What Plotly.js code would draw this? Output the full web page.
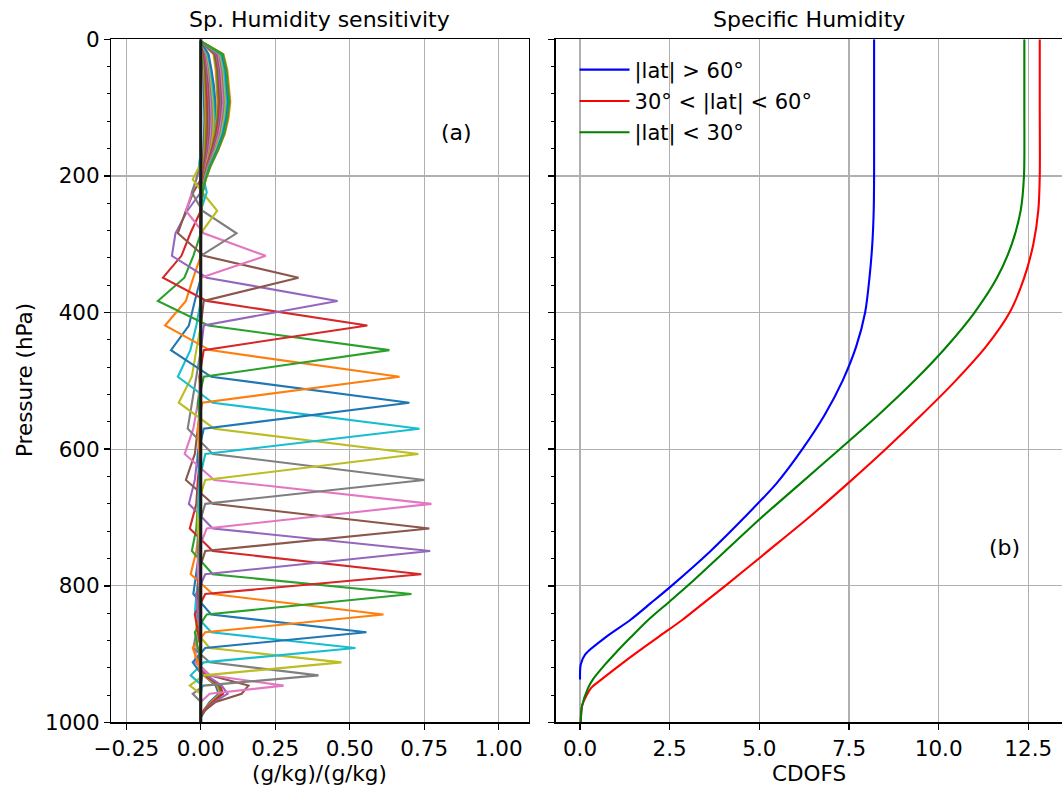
<!DOCTYPE html>
<html>
<head>
<meta charset="utf-8">
<script src="https://cdn.plot.ly/plotly-3.0.1.min.js"></script>
<style>html,body{margin:0;padding:0;background:#fff;}#chart{width:1062px;height:786px;}</style>
</head>
<body>
<div id="chart"></div>
<script>
// ---------- DATA ----------
// Pressure grid (hPa) of the sensitivity (kernel) rows
const pressureLevels = [3,22,45,68,92,115,138,162,186,205,224,251,284,317,349,383,419,455,494,532,570,607,645,680,716,749,783,812,842,868,891,912,931,946,958,970,982,992,1000];

// Near-surface rows (rows 0-5), values on these levels
const surfaceLevels = [891,912,931,946,958,970,982,992,1000];
const surfaceRows = [
  [0,-0.010,0.010,0.050,0.060,0.030,0.010,0,0],
  [0,-0.010,0.010,0.055,0.065,0.035,0.010,0,0],
  [0,-0.008,0.015,0.060,0.070,0.040,0.012,0,0],
  [0,-0.012,0.015,0.065,0.075,0.040,0.012,0,0],
  [0,-0.010,0.020,0.070,0.090,0.045,0.015,0,0],
  [0,-0.015,0.030,0.160,0.137,0.050,0.015,0,0]
];

// Peaked rows (rows 6-29): pressure of the peak and values at levels -4..+4 around it
const spikePeakPressure = [946,931,912,891,868,842,812,783,749,716,680,645,607,570,532,494,455,419,383,349,317,284,251,224];
const spikeWindows = [
  [-0.010,-0.015,-0.020,0.030,0.278,0.030,0.000,0.000,0],
  [-0.010,-0.015,-0.025,0.030,0.395,0.010,-0.027,0.000,0],
  [-0.005,-0.015,-0.015,0.030,0.472,0.010,-0.037,0.000,0],
  [-0.005,-0.015,-0.020,0.035,0.519,0.010,-0.034,0.005,0],
  [-0.005,-0.015,-0.025,0.035,0.556,0.015,-0.027,0.005,0],
  [-0.005,-0.015,-0.034,0.040,0.613,0.015,-0.027,-0.010,0],
  [-0.010,-0.015,-0.030,0.040,0.707,0.020,-0.020,-0.010,0],
  [-0.010,-0.015,-0.037,0.040,0.740,0.015,-0.020,-0.010,0],
  [-0.010,-0.020,-0.040,0.040,0.770,0.015,-0.015,-0.010,0],
  [-0.010,-0.020,-0.050,0.040,0.767,0.015,-0.010,-0.010,0],
  [-0.010,-0.025,-0.054,0.045,0.774,0.020,-0.010,-0.010,0],
  [-0.015,-0.030,-0.044,0.040,0.750,0.015,-0.010,-0.010,0],
  [-0.015,-0.030,-0.074,0.045,0.730,0.015,-0.010,-0.010,0],
  [-0.015,-0.035,-0.077,0.040,0.734,0.015,-0.005,-0.010,0],
  [-0.020,-0.040,-0.100,0.035,0.700,0.010,-0.010,-0.005,0],
  [-0.025,-0.050,-0.120,0.030,0.667,0.005,-0.010,-0.005,0],
  [-0.025,-0.055,-0.144,0.025,0.633,0.010,-0.010,0.000,0],
  [-0.035,-0.065,-0.127,0.020,0.559,0.010,-0.005,0.000,0],
  [-0.045,-0.085,-0.097,0.020,0.459,0.010,0.000,0.000,0],
  [-0.025,-0.050,-0.077,0.010,0.328,0.010,0.000,0.000,0],
  [-0.015,-0.030,-0.050,0.010,0.218,0.000,0.000,0.000,0],
  [-0.005,-0.015,-0.030,0.005,0.120,0.000,0.000,0.000,0],
  [0,-0.005,-0.027,0.005,0.055,0.000,0.000,0,0],
  [0,0,-0.005,0.010,0.020,0.000,0,0,0]
];

// Upper-level rows (rows 30-52), values on these levels
const upperLevels = [3,22,45,68,92,115,138,162,186,205,224,251,284];
const upperRows = [
  [0,.006,.008,.010,.011,.012,.011,.009,.006,.004,.001,0,0],
  [0,.008,.011,.014,.015,.016,.015,.012,.008,.005,.002,0,0],
  [0,.010,.014,.017,.019,.020,.019,.016,.010,.006,.002,.001,0],
  [0,.012,.017,.020,.023,.024,.023,.019,.012,.007,.003,.001,0],
  [0,.014,.020,.024,.027,.028,.027,.022,.014,.008,.003,.001,0],
  [0,.016,.022,.027,.030,.032,.030,.025,.016,.010,.004,.001,0],
  [0,.018,.025,.031,.034,.036,.034,.028,.018,.011,.004,.001,0],
  [0,.020,.028,.034,.038,.040,.038,.031,.020,.012,.005,.001,0],
  [0,.022,.031,.037,.042,.044,.042,.034,.022,.013,.005,.001,0],
  [0,.024,.034,.041,.046,.048,.046,.037,.024,.014,.006,.001,0],
  [0,.026,.036,.044,.049,.052,.049,.041,.026,.016,.006,.002,0],
  [0,.043,.050,.053,.056,.053,.046,.034,.018,.010,.003,.001,0],
  [0,.046,.054,.057,.060,.056,.049,.036,.020,.010,.004,.001,0],
  [0,.049,.058,.061,.064,.060,.052,.038,.021,.011,.004,.001,0],
  [0,.052,.061,.065,.068,.064,.056,.041,.022,.012,.004,.001,0],
  [0,.055,.065,.068,.072,.068,.059,.043,.024,.012,.004,.001,0],
  [0,.059,.068,.072,.076,.071,.062,.046,.025,.013,.005,.001,0],
  [0,.062,.072,.076,.080,.075,.066,.048,.026,.014,.005,.001,0],
  [0,.065,.076,.080,.084,.079,.069,.050,.028,.014,.005,.001,0],
  [0,.068,.079,.084,.088,.083,.072,.053,.029,.015,.005,.001,0],
  [0,.071,.083,.087,.092,.086,.075,.055,.030,.016,.006,.001,0],
  [0,.076,.089,.094,.099,.093,.081,.059,.033,.017,.006,.001,0],
  [0,.074,.086,.091,.096,.090,.079,.058,.032,.016,.006,.001,0]
];

// Cumulative degrees of freedom (right panel)
const cdofsPressure = [0,100,200,250,300,350,400,450,500,550,600,650,700,750,800,825,850,875,900,915,937,950,975,1000];
const cdofsPolar    = [8.20,8.20,8.20,8.19,8.15,8.07,7.95,7.70,7.32,6.82,6.20,5.48,4.58,3.62,2.55,1.98,1.40,0.72,0.15,0.02,0.00,null,null,null];
const cdofsMidLat   = [12.82,12.82,12.82,12.78,12.64,12.38,11.98,11.32,10.47,9.52,8.52,7.47,6.38,5.22,4.05,3.45,2.85,2.18,1.52,1.14,0.60,0.30,0.06,0.02];
const cdofsTropics  = [12.39,12.39,12.38,12.29,12.04,11.62,11.00,10.22,9.32,8.32,7.24,6.15,5.06,4.03,3.00,2.45,1.90,1.42,0.96,0.70,0.36,0.22,0.06,0.02];
const seriesNames = ['|lat| > 60°','30° < |lat| < 60°','|lat| < 30°'];
const seriesColors = ['#0000ff','#ff0000','#008000'];

const xTicksLeft = [-0.25,0,0.25,0.5,0.75,1.0];
const xTicksRight = [0,2.5,5,7.5,10,12.5];
const yTicks = [0,200,400,600,800,1000];

// ---------- BUILD ----------
const tab10 = ['#1f77b4','#ff7f0e','#2ca02c','#d62728','#9467bd','#8c564b','#e377c2','#7f7f7f','#bcbd22','#17becf'];
const rows = [];
surfaceRows.forEach(vals => {
  const r = pressureLevels.map(() => 0);
  surfaceLevels.forEach((p, j) => { r[pressureLevels.indexOf(p)] = vals[j]; });
  rows.push(r);
});
spikeWindows.forEach((win, i) => {
  const r = pressureLevels.map(() => 0);
  const k = pressureLevels.indexOf(spikePeakPressure[i]);
  win.forEach((v, j) => { const idx = k - 4 + j; if (idx >= 0 && idx < r.length) r[idx] = v; });
  rows.push(r);
});
upperRows.forEach(vals => {
  const r = pressureLevels.map(() => 0);
  upperLevels.forEach((p, j) => { r[pressureLevels.indexOf(p)] = vals[j]; });
  rows.push(r);
});

const traces = rows.map((r, i) => ({
  x: r, y: pressureLevels, type: 'scatter', mode: 'lines',
  line: {color: tab10[i % 10], width: 2.1}, showlegend: false, hoverinfo: 'skip',
  xaxis: 'x', yaxis: 'y'
}));
[cdofsPolar, cdofsMidLat, cdofsTropics].forEach((vals, i) => {
  traces.push({
    x: vals, y: cdofsPressure, type: 'scatter', mode: 'lines',
    name: seriesNames[i], line: {color: seriesColors[i], width: 2.1, shape: 'spline', smoothing: 0.8},
    xaxis: 'x2', yaxis: 'y2', legendgroup: 'g' + i
  });
});

const FONT = 'DejaVu Sans, sans-serif';
const axisCommon = {
  showline: true, linecolor: '#000', linewidth: 1.4, mirror: true,
  ticks: 'outside', ticklen: 6, tickwidth: 1.4, tickcolor: '#000',
  showgrid: true, gridcolor: '#b0b0b0', gridwidth: 1.3, zeroline: false,
  tickfont: {family: FONT, size: 21.5, color: '#000'}
};
const yMinor = {dtick: 40, tick0: 0, ticks: 'outside', ticklen: 3.5, tickwidth: 1.2, tickcolor: '#000', showgrid: false};

const layout = {
  width: 1062, height: 786,
  margin: {l: 0, r: 0, t: 0, b: 0},
  paper_bgcolor: '#fff', plot_bgcolor: '#fff',
  font: {family: FONT, size: 21, color: '#000'},
  xaxis: Object.assign({}, axisCommon, {domain: [0.1049, 0.4977], range: [-0.30, 1.10], tickvals: xTicksLeft, tickformat: '.2f', anchor: 'y'}),
  yaxis: Object.assign({}, axisCommon, {domain: [0.0808, 0.9501], range: [1000, 0], tickvals: yTicks, anchor: 'x', minor: yMinor}),
  xaxis2: Object.assign({}, axisCommon, {domain: [0.5231, 1.0], range: [-0.683, 13.44], tickvals: xTicksRight, tickformat: '.1f', anchor: 'y2'}),
  yaxis2: Object.assign({}, axisCommon, {domain: [0.0808, 0.9501], range: [1000, 0], tickvals: yTicks, anchor: 'x2', showticklabels: false, minor: yMinor}),
  showlegend: true,
  legend: {x: 0.541, y: 0.937, xanchor: 'left', yanchor: 'top', bgcolor: 'rgba(0,0,0,0)', borderwidth: 0,
           font: {family: FONT, size: 21, color: '#000'}, tracegroupgap: 1, traceorder: 'grouped', itemwidth: 50},
  shapes: [{type: 'line', xref: 'x', yref: 'y domain', x0: 0, x1: 0, y0: 0, y1: 1, line: {color: '#1a1a1a', width: 3}, layer: 'above'}],
  annotations: [
    {text: 'Sp. Humidity sensitivity', x: 0.3013, y: 0.9758, xref: 'paper', yref: 'paper', showarrow: false, xanchor: 'center', yanchor: 'middle', font: {family: FONT, size: 22}},
    {text: 'Specific Humidity', x: 0.7615, y: 0.9758, xref: 'paper', yref: 'paper', showarrow: false, xanchor: 'center', yanchor: 'middle', font: {family: FONT, size: 22}},
    {text: 'Pressure (hPa)', x: 0.0226, y: 0.5165, xref: 'paper', yref: 'paper', showarrow: false, xanchor: 'center', yanchor: 'middle', textangle: -90, font: {family: FONT, size: 21.5}},
    {text: '(g/kg)/(g/kg)', x: 0.3013, y: 0.0165, xref: 'paper', yref: 'paper', showarrow: false, xanchor: 'center', yanchor: 'middle', font: {family: FONT, size: 21.5}},
    {text: 'CDOFS', x: 0.7615, y: 0.0165, xref: 'paper', yref: 'paper', showarrow: false, xanchor: 'center', yanchor: 'middle', font: {family: FONT, size: 21.5}},
    {text: '(a)', x: 0.4303, y: 0.8308, xref: 'paper', yref: 'paper', showarrow: false, xanchor: 'center', yanchor: 'middle', font: {family: FONT, size: 22}},
    {text: '(b)', x: 0.9454, y: 0.3028, xref: 'paper', yref: 'paper', showarrow: false, xanchor: 'center', yanchor: 'middle', font: {family: FONT, size: 22}}
  ]
};

Plotly.newPlot('chart', traces, layout, {staticPlot: true, displayModeBar: false});
</script>
</body>
</html>
